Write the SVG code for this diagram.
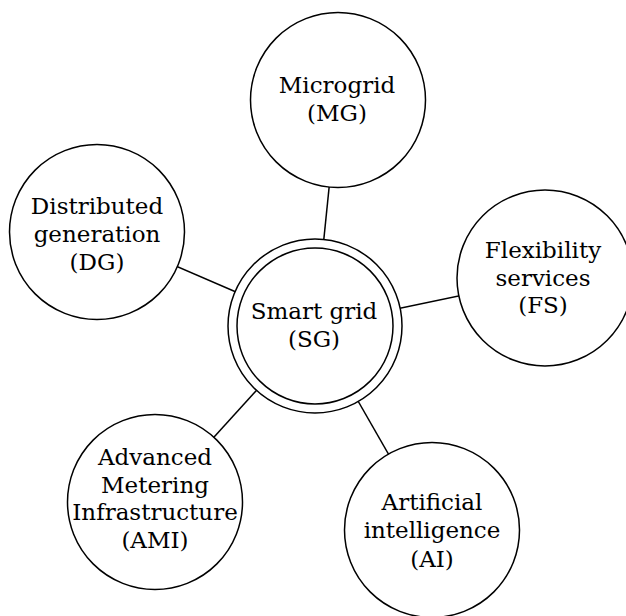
<svg xmlns="http://www.w3.org/2000/svg" width="626" height="616" viewBox="0 0 626 616">
  <style>
    .node { fill: #ffffff; stroke: #000000; stroke-width: 1.5; }
    .link { stroke: #000000; stroke-width: 1.5; fill: none; }
    .label { font-family: "DejaVu Serif", "Liberation Serif", serif; font-size: 23px; fill: #000000; text-anchor: middle; }
  </style>
  <rect width="626" height="616" fill="#ffffff"/>

  <!-- spokes from the hub to each satellite (drawn centre to centre, hidden by the white circle fills) -->
  <g id="connectors">
    <line class="link" x1="315" y1="326" x2="338" y2="100"/>
    <line class="link" x1="315" y1="326" x2="97" y2="232"/>
    <line class="link" x1="315" y1="326" x2="545" y2="278"/>
    <line class="link" x1="315" y1="326" x2="155" y2="502"/>
    <line class="link" x1="315" y1="326" x2="432" y2="530"/>
  </g>

  <g id="smart-grid">
    <circle class="node" cx="315" cy="326" r="87"/>
    <circle class="node" cx="315" cy="326" r="78"/>
    <text class="label" x="314" y="319">Smart grid</text>
    <text class="label" x="314" y="347">(SG)</text>
  </g>

  <g id="microgrid">
    <circle class="node" cx="338" cy="100" r="87.5"/>
    <text class="label" x="337" y="93">Microgrid</text>
    <text class="label" x="337" y="120.5">(MG)</text>
  </g>

  <g id="distributed-generation">
    <circle class="node" cx="97" cy="232" r="87.5"/>
    <text class="label" x="97" y="214">Distributed</text>
    <text class="label" x="97" y="242">generation</text>
    <text class="label" x="97" y="270">(DG)</text>
  </g>

  <g id="flexibility-services">
    <circle class="node" cx="545" cy="278" r="88"/>
    <text class="label" x="543" y="258">Flexibility</text>
    <text class="label" x="543" y="285.5">services</text>
    <text class="label" x="543" y="313">(FS)</text>
  </g>

  <g id="advanced-metering-infrastructure">
    <circle class="node" cx="155" cy="502" r="87.5"/>
    <text class="label" x="155" y="465">Advanced</text>
    <text class="label" x="155" y="493">Metering</text>
    <text class="label" x="155" y="520">Infrastructure</text>
    <text class="label" x="155" y="548">(AMI)</text>
  </g>

  <g id="artificial-intelligence">
    <circle class="node" cx="432" cy="530" r="87.5"/>
    <text class="label" x="432" y="510">Artificial</text>
    <text class="label" x="432" y="538">intelligence</text>
    <text class="label" x="432" y="567">(AI)</text>
  </g>
</svg>
